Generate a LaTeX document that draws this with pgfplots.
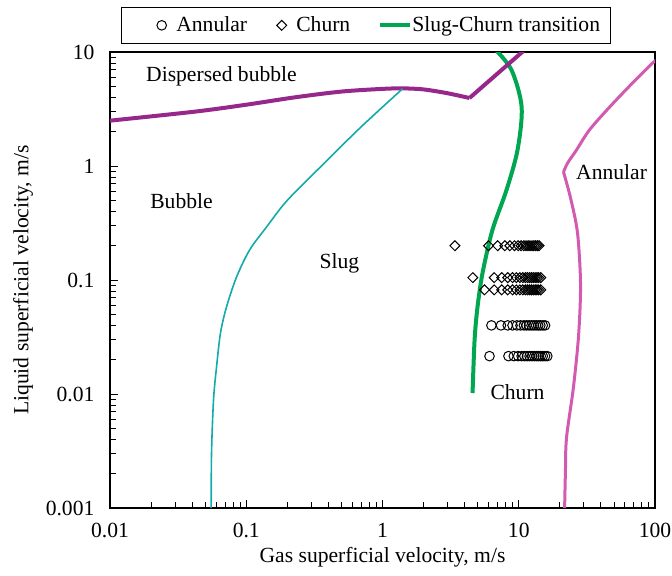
\documentclass[border=0pt]{standalone}
\usepackage{fontspec}
\setmainfont{Liberation Serif}
\usepackage{pgfplots}
\pgfplotsset{compat=1.18}
\definecolor{cpurple}{RGB}{150,40,140}
\definecolor{cteal}{RGB}{20,170,170}
\definecolor{cgreen}{RGB}{0,166,80}
\definecolor{cpink}{RGB}{210,90,175}
\newcommand{\fs}{\fontsize{10.8}{12.5}\selectfont}
\pgfplotsset{
  markfirst/.style={legend image code/.code={\path (-17pt,0pt) (5pt,0pt); \draw[##1] plot coordinates {(0pt,0pt)};}},
  markleg/.style={legend image code/.code={\path (-3pt,0pt) (5pt,0pt); \draw[##1] plot coordinates {(0pt,0pt)};}},
  lineleg/.style={legend image code/.code={\draw[##1,overlay] (0pt,0pt) -- (15pt,0pt); \path (0pt,0pt) (13pt,0pt);}},
}
\begin{document}
\fs
\begin{tikzpicture}
\useasboundingbox (-55pt,-33.5pt) rectangle (281pt,254pt);
\begin{axis}[
  at={(0,0)}, anchor=south west,
  scale only axis, width=272.5pt, height=228pt,
  xmode=log, ymode=log,
  xmin=0.01, xmax=100, ymin=0.001, ymax=10,
  xtick={0.01,0.1,1,10,100}, xticklabels={0.01,0.1,1,10,100},
  ytick={0.001,0.01,0.1,1,10}, yticklabels={0.001,0.01,0.1,1,10},
  minor xtick={}, minor ytick={},
  tick align=inside, xtick pos=bottom, ytick pos=left,
  major tick length=4pt,
  axis line style={line width=0.6pt},
  every tick/.style={black, line width=0.5pt},
  /pgf/number format/assume math mode=true,
  tick label style={font=\fs},
  yticklabel style={xshift=-4pt},
  xticklabel style={yshift=-4pt},
  label style={font=\fs},
  xlabel={Gas superficial velocity, m/s},
  ylabel={Liquid superficial velocity, m/s},
  xlabel style={yshift=3pt},
  ylabel style={yshift=-1pt},
  clip=true,
  legend columns=3,
  legend style={at={(0.469,1.0175)}, anchor=south, draw=black, line width=0.6pt,
    font=\fs, inner xsep=3pt, inner ysep=2.5pt,
    /tikz/every even column/.append style={column sep=12pt}},
  legend cell align=left,
]
% Annular data (circles)
\addplot[only marks, mark=o, mark size=2.4pt, mark options={black, line width=0.5pt}, markfirst]
  coordinates {
  (6.3,0.04)(7.4,0.04)(8.3,0.04)(9.0,0.04)(9.7,0.04)(10.3,0.04)(10.9,0.04)(11.4,0.04)
  (11.9,0.04)(12.4,0.04)(12.9,0.04)(13.4,0.04)(13.9,0.04)(14.4,0.04)(15.0,0.04)(15.6,0.04)
  (6.1,0.0215)(8.4,0.0215)(9.2,0.0215)(9.9,0.0215)(10.5,0.0215)(11.0,0.0215)(11.5,0.0215)
  (12.0,0.0215)(12.5,0.0215)(13.0,0.0215)(13.5,0.0215)(14.0,0.0215)(14.5,0.0215)(15.0,0.0215)
  (15.6,0.0215)(16.2,0.0215)
  };
\addlegendentry{Annular}
% Churn data (diamonds)
\addplot[only marks, mark=square, mark size=1.75pt, mark options={black, line width=0.5pt, rotate=45}, markleg]
  coordinates {
  (3.4,0.2)(6.0,0.2)(7.0,0.2)(7.9,0.2)(8.6,0.2)(9.3,0.2)(9.9,0.2)(10.4,0.2)(10.9,0.2)
  (11.3,0.2)(11.7,0.2)(12.1,0.2)(12.5,0.2)(12.9,0.2)(13.3,0.2)(13.7,0.2)(14.1,0.2)
  (4.6,0.105)(6.6,0.105)(7.5,0.105)(8.3,0.105)(9.0,0.105)(9.6,0.105)(10.2,0.105)(10.7,0.105)
  (11.2,0.105)(11.6,0.105)(12.0,0.105)(12.4,0.105)(12.8,0.105)(13.2,0.105)(13.6,0.105)(14.0,0.105)(14.5,0.105)
  (5.6,0.082)(6.6,0.082)(7.5,0.082)(8.3,0.082)(9.0,0.082)(9.6,0.082)(10.2,0.082)(10.7,0.082)
  (11.2,0.082)(11.6,0.082)(12.0,0.082)(12.4,0.082)(12.8,0.082)(13.2,0.082)(13.6,0.082)(14.0,0.082)(14.5,0.082)
  };
\addlegendentry{Churn}
% Slug-Churn transition (green)
\addplot[cgreen, line width=2pt, smooth, no marks, lineleg]
  coordinates {
  (6.6,10.8)(8.85,6.95)(10.5,3.29)(9.79,1.38)(8.13,0.616)(6.41,0.275)(5.42,0.115)
  (4.98,0.058)(4.74,0.0298)(4.58,0.0102)
  };
\addlegendentry{Slug-Churn transition}
% Dispersed bubble boundary (purple)
\addplot[cpurple, line width=2pt, smooth, no marks, forget plot]
  coordinates {
  (0.01,2.5)(0.042,3.0)(0.1,3.45)(0.226,4.0)(0.5,4.5)(1.0,4.75)(1.4,4.8)(2.0,4.7)(3.0,4.35)(4.35,3.95)
  };
\addplot[cpurple, line width=2pt, no marks, forget plot]
  coordinates {(4.35,3.95)(10.8,10.2)};
% Bubble-slug boundary (teal)
\addplot[cteal, line width=0.8pt, smooth, no marks, forget plot]
  coordinates {
  (0.0553,0.001)(0.0556,0.003)(0.0575,0.00886)(0.0605,0.0172)(0.0647,0.0343)(0.0716,0.058)
  (0.0848,0.106)(0.1057,0.183)(0.141,0.292)(0.201,0.503)(0.395,1.13)(0.698,2.21)(1.4,4.75)
  };
% Annular boundary (pink)
\addplot[cpink, line width=1.5pt, smooth, no marks, forget plot]
  coordinates {
  (101,8.35)(95.9,8.01)(68.4,5.35)(46.4,3.29)(33.0,2.07)(26.5,1.38)(22.8,1.06)(21.3,0.886)
  };
\addplot[cpink, line width=1.5pt, smooth, no marks, forget plot]
  coordinates {
  (21.3,0.886)(24.0,0.524)(27.0,0.258)(28.4,0.0923)(27.5,0.033)(25.2,0.0115)(22.4,0.00411)(22.0,0.00207)(21.7,0.001)
  };
% Region labels
\node at (axis cs:0.0658,6.16) {Dispersed bubble};
\node at (axis cs:0.0335,0.493) {Bubble};
\node at (axis cs:0.483,0.141) {Slug};
\node at (axis cs:9.79,0.0104) {Churn};
\node at (axis cs:48,0.886) {Annular};
\end{axis}
\end{tikzpicture}
\end{document}
